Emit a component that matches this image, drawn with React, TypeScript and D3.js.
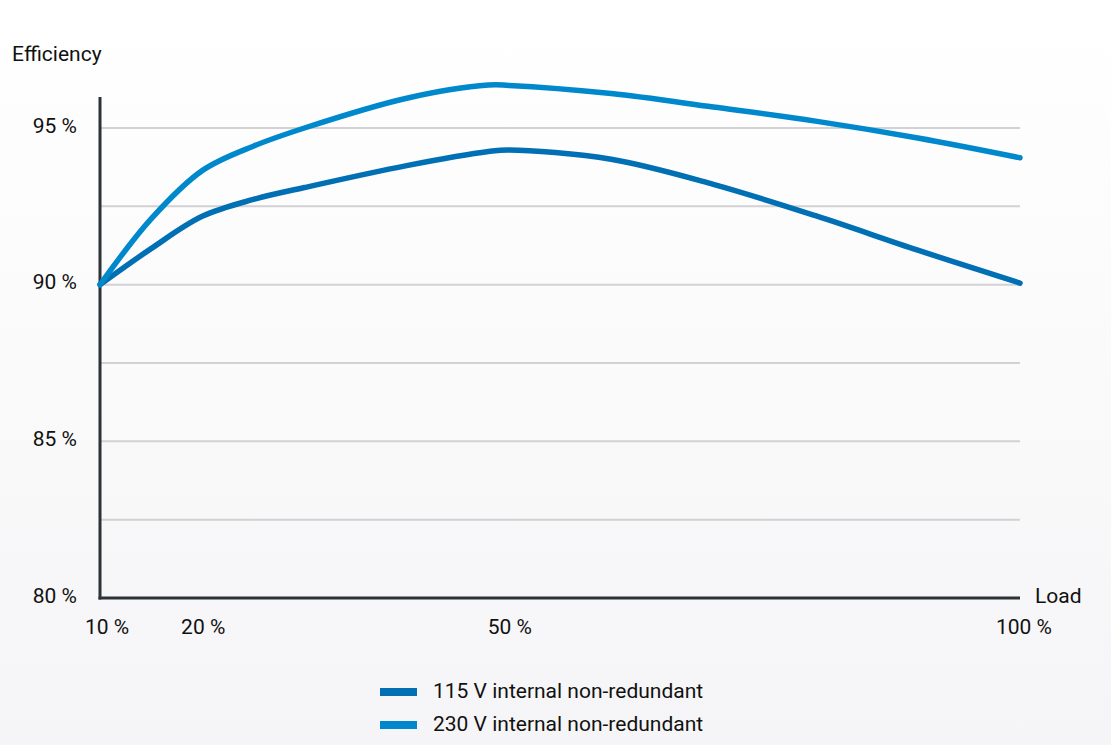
import React from "react";
import * as d3 from "d3";

const loads = [10, 15, 20, 25, 30, 40, 48, 50, 60, 70, 80, 90, 100];
const series115 = [90.0, 91.15, 92.18, 92.72, 93.1, 93.8, 94.25, 94.3, 94.0, 93.2, 92.2, 91.1, 90.05];
const series230 = [90.0, 92.1, 93.64, 94.42, 95.0, 95.95, 96.37, 96.36, 96.1, 95.67, 95.22, 94.68, 94.05];
const xTicks = [10, 20, 50, 100];
const xTickLabels = ["10 %", "20 %", "50 %", "100 %"];
const yTicks = [80, 85, 90, 95];
const yTickLabels = ["80 %", "85 %", "90 %", "95 %"];
const gridValues = [82.5, 85, 87.5, 90, 92.5, 95];
const legendLabels = ["115 V internal non-redundant", "230 V internal non-redundant"];
const colors = ["#006fb4", "#0088cd"];

export default function App() {
  const W = 1111, H = 745;
  const x = d3.scaleLinear().domain([10, 100]).range([100, 1020]);
  const y = d3.scaleLinear().domain([80, 95]).range([598, 128]);
  const line = d3
    .line<number>()
    .x((_, i) => x(loads[i]))
    .y((d) => y(d))
    .curve(d3.curveCatmullRom.alpha(0.5));
  const font = "Roboto, 'Open Sans', sans-serif";
  const seriesList = [series115, series230];
  const fs = 21;
  return (
    <svg
      width={W}
      height={H}
      style={{ position: "absolute", left: 0, top: 0, display: "block" }}
      fontFamily={font}
    >
      <defs>
        <linearGradient id="bg" x1="0" y1="0" x2="0" y2="1">
          <stop offset="0" stopColor="#ffffff" />
          <stop offset="1" stopColor="#f5f5f7" />
        </linearGradient>
      </defs>
      <rect x={0} y={0} width={W} height={H} fill="url(#bg)" />
      {gridValues.map((g) => (
        <line key={g} x1={x(10)} x2={x(100)} y1={y(g)} y2={y(g)} stroke="#d2d2d4" strokeWidth={2} />
      ))}
      <line x1={x(10)} x2={x(10)} y1={97} y2={y(80) + 1.5} stroke="#2d3236" strokeWidth={3} />
      <line x1={x(10) - 1.5} x2={x(100)} y1={y(80)} y2={y(80)} stroke="#2d3236" strokeWidth={3} />
      {seriesList.map((s, i) => (
        <path
          key={i}
          d={line(s) || ""}
          fill="none"
          stroke={colors[i]}
          strokeWidth={5.5}
          strokeLinecap="round"
          strokeLinejoin="round"
        />
      ))}
      <text x={12} y={61} fontSize={fs} fill="#111">Efficiency</text>
      {yTicks.map((t, i) => (
        <text key={t} x={77} y={y(t) - 1} fontSize={fs} fill="#111" textAnchor="end" dominantBaseline="middle">
          {yTickLabels[i]}
        </text>
      ))}
      {xTicks.map((t, i) => (
        <text key={t} x={x(t) + (t === 10 ? 7 : t === 100 ? 4 : 1)} y={634} fontSize={fs} fill="#111" textAnchor="middle">
          {xTickLabels[i]}
        </text>
      ))}
      <text x={1035} y={603} fontSize={fs} fill="#111">Load</text>
      {legendLabels.map((l, i) => (
        <g key={l} transform={`translate(380, ${692 + i * 33})`}>
          <rect x={0} y={-4} width={37} height={8} fill={colors[i]} />
          <text x={53} y={0} fontSize={fs} fill="#111" dominantBaseline="middle">{l}</text>
        </g>
      ))}
    </svg>
  );
}
